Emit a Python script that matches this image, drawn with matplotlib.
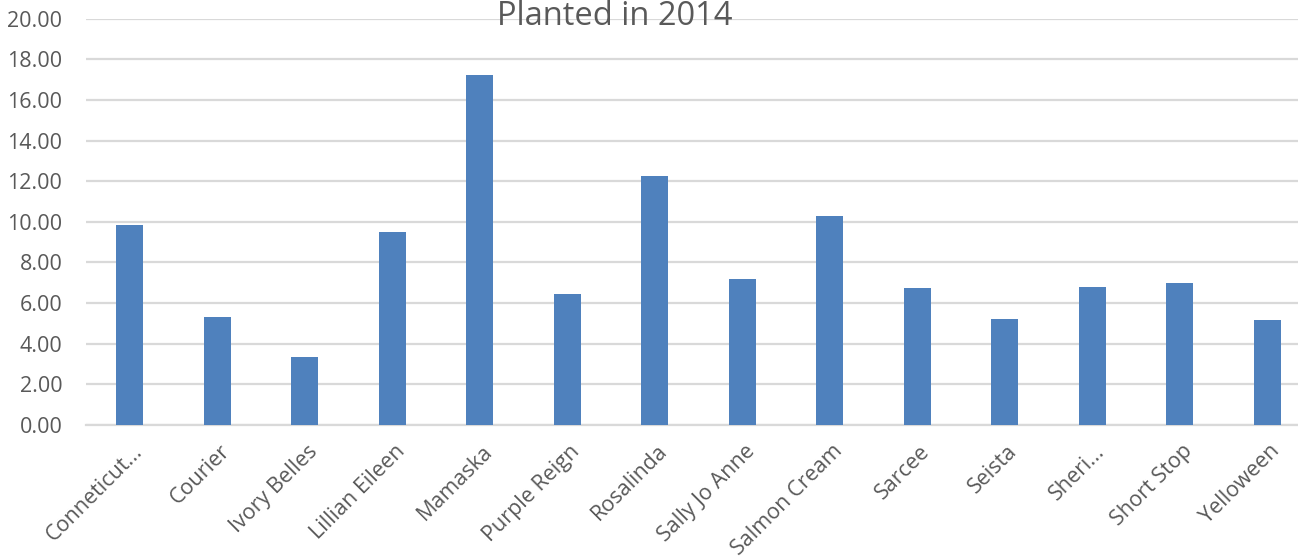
import matplotlib
matplotlib.use("Agg")
import matplotlib.pyplot as plt
import matplotlib.transforms as mtransforms

categories = ["Conneticut...", "Courier", "Ivory Belles", "Lillian Eileen", "Mamaska",
              "Purple Reign", "Rosalinda", "Sally Jo Anne", "Salmon Cream", "Sarcee",
              "Seista", "Sheri...", "Short Stop", "Yelloween"]
values = [9.86, 5.33, 3.33, 9.50, 17.23, 6.45, 12.26, 7.17, 10.30, 6.76, 5.23, 6.78, 7.01, 5.15]
yticks = [0, 2, 4, 6, 8, 10, 12, 14, 16, 18, 20]
title = "Planted in 2014"

plt.rcParams['font.family'] = ['Open Sans', 'DejaVu Sans']
text_color = "#595959"
grid_color = "#d9d9d9"
bar_color = "#4f81bd"

fig = plt.figure(figsize=(12.98, 5.58), dpi=100)
ax = fig.add_axes([86/1298, 1 - 425/558, 1 - 86/1298, (425 - 18.7)/558])

x = list(range(len(categories)))
ax.bar(x, values, width=0.31, color=bar_color, zorder=3)

ax.set_xlim(-0.5, 13.35)
ax.set_ylim(0, 20)
ax.set_yticks(yticks)
ax.set_yticklabels([f"{v:.2f}" for v in yticks], color=text_color, fontsize=15.5)
ax.yaxis.grid(True, color=grid_color, linewidth=1.6, zorder=0)
ax.set_axisbelow(True)
for s in ["top", "right", "left"]:
    ax.spines[s].set_visible(False)
ax.spines["bottom"].set_color(grid_color)
ax.spines["bottom"].set_linewidth(1.6)
ax.tick_params(axis="y", length=0, pad=17)
ax.tick_params(axis="x", length=0, pad=2)

ax.set_xticks(x)
ax.set_xticklabels(categories, rotation=45, ha="right", rotation_mode="anchor",
                   color=text_color, fontsize=15.5)
offset = mtransforms.ScaledTranslation(2/100, -13/100, fig.dpi_scale_trans)
for lab in ax.get_xticklabels():
    lab.set_transform(lab.get_transform() + offset)

fig.text(615/1298, 1 - 25/558, title, ha="center", va="baseline",
         color=text_color, fontsize=23.5)

fig.savefig("out.png", dpi=100)
